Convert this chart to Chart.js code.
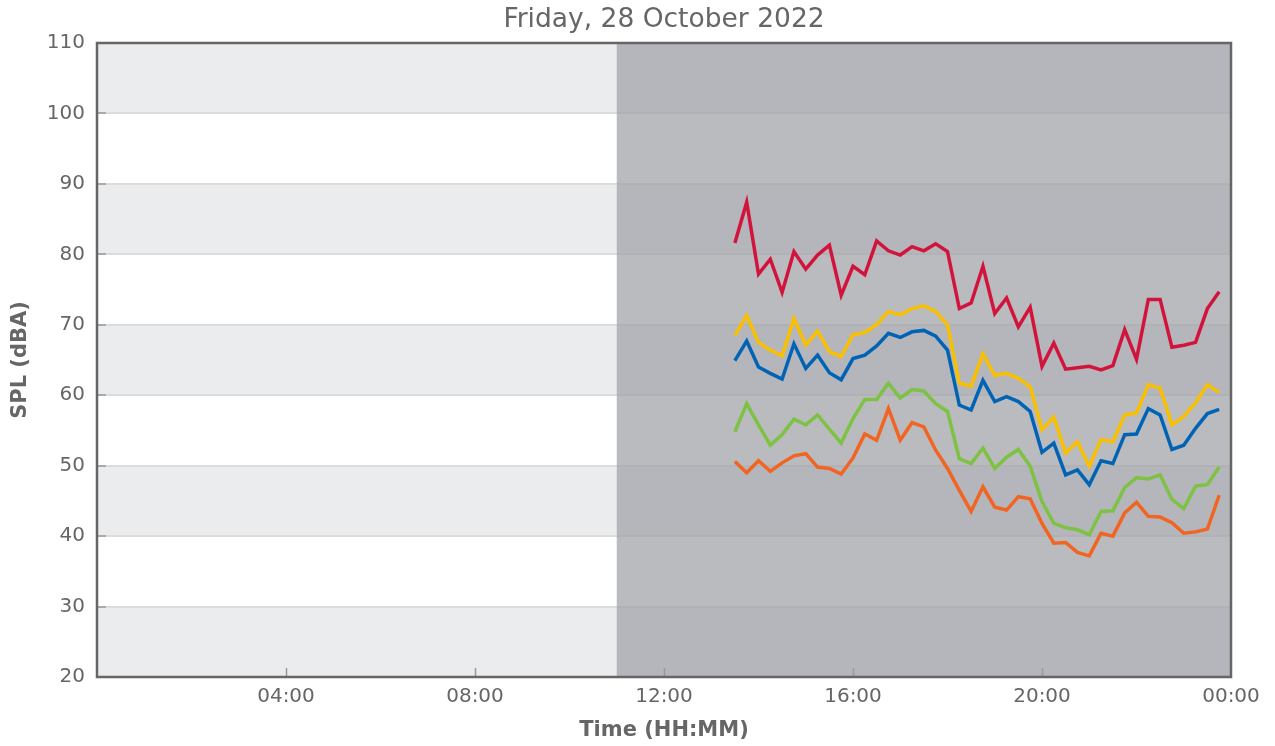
<!DOCTYPE html>
<html>
<head>
<meta charset="utf-8">
<style>
  html, body { margin: 0; padding: 0; background: #ffffff; }
  #wrap { width: 1275px; height: 746px; }
</style>
<script src="https://cdn.jsdelivr.net/npm/chart.js@4/dist/chart.umd.min.js"></script>
</head>
<body>
<div id="wrap"><canvas id="spl" width="1275" height="746"></canvas></div>
<script>
// 15-minute sample times
const times = [
  "13:30","13:45","14:00","14:15","14:30","14:45","15:00","15:15","15:30","15:45",
  "16:00","16:15","16:30","16:45","17:00","17:15","17:30","17:45","18:00","18:15",
  "18:30","18:45","19:00","19:15","19:30","19:45","20:00","20:15","20:30","20:45",
  "21:00","21:15","21:30","21:45","22:00","22:15","22:30","22:45","23:00","23:15",
  "23:30","23:45"
];

// Sound pressure levels, dBA
const splRed = [
  81.6, 87.4, 77.2, 79.3, 74.6, 80.4, 77.9, 79.9, 81.3, 74.2, 78.3, 77.1, 81.9, 80.5,
  79.9, 81.1, 80.5, 81.5, 80.4, 72.3, 73.1, 78.3, 71.6, 73.8, 69.7, 72.5, 64.1, 67.4,
  63.7, 63.9, 64.1, 63.6, 64.2, 69.3, 65.1, 73.6, 73.6, 66.8, 67.1, 67.5, 72.3, 74.7
];
const splYellow = [
  68.5, 71.3, 67.5, 66.4, 65.6, 70.9, 67.1, 69.1, 66.2, 65.5, 68.6, 68.9, 70.0, 71.9,
  71.4, 72.3, 72.7, 71.9, 70.0, 61.7, 61.3, 65.9, 62.8, 63.1, 62.4, 61.2, 55.1, 56.9,
  51.8, 53.4, 49.9, 53.7, 53.4, 57.2, 57.5, 61.5, 61.0, 55.8, 57.0, 58.9, 61.5, 60.4
];
const splBlue = [
  64.9, 67.7, 64.0, 63.1, 62.3, 67.3, 63.8, 65.7, 63.2, 62.2, 65.2, 65.7, 67.0, 68.8,
  68.2, 69.0, 69.2, 68.4, 66.4, 58.6, 57.9, 62.1, 59.1, 59.8, 59.1, 57.7, 51.9, 53.2,
  48.7, 49.4, 47.3, 50.7, 50.3, 54.4, 54.5, 58.1, 57.2, 52.3, 52.9, 55.3, 57.4, 58.0
];
const splGreen = [
  54.8, 58.8, 55.8, 52.9, 54.4, 56.6, 55.8, 57.2, 55.2, 53.2, 56.7, 59.4, 59.4, 61.7,
  59.6, 60.8, 60.6, 58.8, 57.7, 51.0, 50.3, 52.5, 49.6, 51.2, 52.3, 49.9, 44.9, 41.8,
  41.2, 40.9, 40.2, 43.5, 43.6, 46.9, 48.3, 48.1, 48.7, 45.2, 43.9, 47.1, 47.3, 49.8
];
const splOrange = [
  50.6, 49.0, 50.7, 49.2, 50.4, 51.4, 51.7, 49.8, 49.6, 48.8, 51.1, 54.5, 53.6, 58.1,
  53.6, 56.1, 55.5, 52.2, 49.6, 46.5, 43.5, 47.0, 44.1, 43.7, 45.6, 45.3, 41.8, 39.0,
  39.1, 37.7, 37.2, 40.4, 40.0, 43.3, 44.8, 42.8, 42.7, 41.9, 40.4, 40.6, 41.0, 45.8
];

// Axis settings
const yTicks = [20, 30, 40, 50, 60, 70, 80, 90, 100, 110];
const xTickHours = [4, 8, 12, 16, 20];
const shadeFrom = "11:00";
const chartTitle = "Friday, 28 October 2022";

const toHours = t => { const [h, m] = t.split(":").map(Number); return h + m / 60; };
const series = (vals) => vals.map((v, i) => ({ x: toHours(times[i]), y: v }));

const axisGrey = "#666666";
const fontFamily = "'DejaVu Sans', sans-serif";

// Alternating horizontal bands, shaded period, border, inward tick marks and title
const decor = {
  id: "decor",
  beforeDraw(chart) {
    const { ctx, chartArea: a, scales: { y } } = chart;
    ctx.save();
    for (let i = 0; i < yTicks.length - 1; i++) {
      const top = y.getPixelForValue(yTicks[i + 1]);
      const bot = y.getPixelForValue(yTicks[i]);
      ctx.fillStyle = (i % 2 === 0) ? "#ebecee" : "#ffffff";
      ctx.fillRect(a.left, top, a.right - a.left, bot - top);
    }
    ctx.restore();
  },
  beforeDatasetsDraw(chart) {
    const { ctx, chartArea: a, scales: { x } } = chart;
    const x0 = x.getPixelForValue(toHours(shadeFrom));
    ctx.save();
    ctx.fillStyle = "rgba(163,164,170,0.75)";
    ctx.fillRect(x0, a.top, a.right - x0, a.bottom - a.top);
    ctx.restore();
  },
  afterDraw(chart) {
    const { ctx, chartArea: a, scales: { x, y } } = chart;
    ctx.save();
    ctx.strokeStyle = "#999999";
    ctx.lineWidth = 1.5;
    ctx.beginPath();
    xTickHours.forEach(h => {
      const px = Math.round(x.getPixelForValue(h)) + 0.5;
      ctx.moveTo(px, a.bottom);
      ctx.lineTo(px, a.bottom - 9);
    });
    yTicks.slice(1, -1).forEach(v => {
      const py = Math.round(y.getPixelForValue(v));
      ctx.moveTo(a.left, py);
      ctx.lineTo(a.left + 9, py);
    });
    ctx.stroke();
    ctx.strokeStyle = axisGrey;
    ctx.lineWidth = 2.5;
    ctx.strokeRect(a.left, a.top, a.right - a.left, a.bottom - a.top);

    ctx.fillStyle = axisGrey;
    ctx.font = "26.5px " + fontFamily;
    ctx.textAlign = "center";
    ctx.textBaseline = "middle";
    ctx.fillText(chartTitle, (a.left + a.right) / 2, 20);
    ctx.restore();
  }
};

const line = (data, color) => ({
  data: series(data),
  borderColor: color,
  backgroundColor: color,
  borderWidth: 3.5,
  pointRadius: 0,
  tension: 0,
  fill: false
});

new Chart(document.getElementById("spl"), {
  type: "line",
  data: {
    datasets: [
      line(splRed, "#d2143c"),
      line(splYellow, "#f8c000"),
      line(splBlue, "#0063b4"),
      line(splGreen, "#7dc242"),
      line(splOrange, "#f26422")
    ]
  },
  options: {
    responsive: false,
    animation: false,
    layout: { padding: { left: 0, right: 44, top: 43, bottom: 0 } },
    plugins: {
      legend: { display: false },
      tooltip: { enabled: false },
      title: { display: false }
    },
    scales: {
      x: {
        type: "linear",
        min: 0,
        max: 24,
        afterFit(s) { s.height = 69; },
        afterBuildTicks(s) { s.ticks = [0, 4, 8, 12, 16, 20, 24].map(v => ({ value: v })); },
        grid: { display: false, drawTicks: false },
        border: { display: false },
        ticks: {
          color: axisGrey,
          padding: 8,
          maxRotation: 0,
          autoSkip: false,
          font: { family: fontFamily, size: 20 },
          callback: v => v === 0 ? "" : String(v % 24).padStart(2, "0") + ":00"
        },
        title: {
          display: true,
          text: "Time (HH:MM)",
          color: axisGrey,
          font: { family: fontFamily, size: 21, weight: "bold" },
          padding: { top: 0, bottom: 2.5 }
        }
      },
      y: {
        min: 20,
        max: 110,
        afterFit(s) { s.width = 97; },
        afterBuildTicks(s) { s.ticks = yTicks.map(v => ({ value: v })); },
        grid: { color: "#dcdcdc", lineWidth: 2, drawTicks: false },
        border: { display: false },
        ticks: {
          color: axisGrey,
          padding: 12,
          font: { family: fontFamily, size: 20 }
        },
        title: {
          display: true,
          text: "SPL (dBA)",
          color: axisGrey,
          font: { family: fontFamily, size: 21, weight: "bold" },
          padding: { top: 7.5, bottom: 0 }
        }
      }
    }
  },
  plugins: [decor]
});
</script>
</body>
</html>
